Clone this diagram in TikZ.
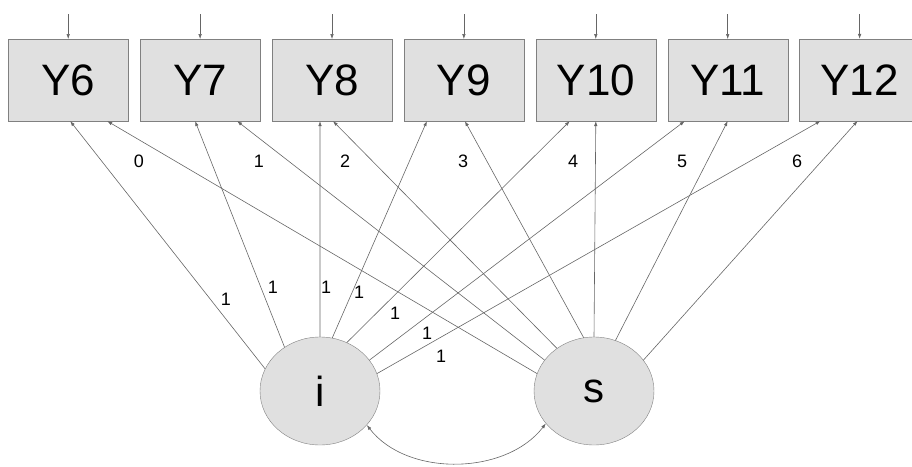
\documentclass[tikz,border=0pt]{standalone}
\usepackage{fontspec}
\setmainfont{Liberation Sans}
\usepackage{tikz}
\usetikzlibrary{positioning,shapes.geometric,arrows.meta,matrix}

\begin{document}
\begin{tikzpicture}[x=1pt,y=1pt,
            observed/.style={matrix of nodes,nodes={draw=black!50, fill=black!12, minimum width=120pt, minimum height=82pt,
            inner sep=0pt, font=\fontsize{44}{48}\selectfont}, column sep=11.5pt, inner sep=0pt, outer sep=0pt},
            latent/.style={ellipse, draw=black!50, fill=black!12, minimum width=120pt, minimum height=108pt,
            inner sep=0pt, font=\fontsize{42}{46}\selectfont},
            loading/.style={draw=black!60, line width=0.6pt, -{Latex[length=5pt,width=3.5pt]}},
            weight/.style={font=\fontsize{18}{20}\selectfont, inner sep=0pt}]

            \useasboundingbox (0,0) rectangle (912,466);

            \matrix[observed, anchor=west] (obs) at (8,386) {
            |(Y6)| Y6 & |(Y7)| Y7 & |(Y8)| Y8 & |(Y9)| Y9 & |(Y10)| Y10 & |(Y11)| Y11 & |(Y12)| Y12 \\};

            \node[latent] (i) at (320,75) {i};
            \node[latent] (s) at (594,75) {s};

            % error arrows on top
            \foreach \y in {Y6,Y7,Y8,Y9,Y10,Y11,Y12} {
                \coordinate[above=25pt of \y.north] (e\y);
                \draw[loading] (e\y) -- (\y.north);
            }

            % intercept loadings
            \draw[loading] (i.158) -- ([xshift=2pt]Y6.south);
            \draw[loading] (i.129) -- ([xshift=-5pt]Y7.south);
            \draw[loading] (i.90) -- ([xshift=-12pt]Y8.south);
            \draw[loading] (i.77) -- ([xshift=-37pt]Y9.south);
            \draw[loading] (i.61) -- ([xshift=-26pt]Y10.south);
            \draw[loading] (i.32) -- ([xshift=-43pt]Y11.south);
            \draw[loading] (i.17) -- ([xshift=-39pt]Y12.south);

            % slope loadings
            \draw[loading] (s.163) -- ([xshift=39pt]Y6.south);
            \draw[loading] (s.148) -- ([xshift=37pt]Y7.south);
            \draw[loading] (s.131) -- ([xshift=1pt]Y8.south);
            \draw[loading] (s.101) -- ([xshift=1pt]Y9.south);
            \draw[loading] (s.90) -- (Y10.south);
            \draw[loading] (s.67) -- (Y11.south);
            \draw[loading] (s.32) -- ([xshift=-2pt]Y12.south);

            % covariance
            \draw[draw=black!60, line width=0.6pt, {Latex[length=5pt,width=3.5pt]}-{Latex[length=5pt,width=3.5pt]}]
                (i.-36) .. controls +(40,-52) and +(-40,-52) .. (s.-146);

            \node[weight] (w0) at (139,305) {0};
            \node[weight] (w1) at (259,305) {1};
            \node[weight] (w2) at (345,305) {2};
            \node[weight] (w3) at (463,305) {3};
            \node[weight] (w4) at (573,305) {4};
            \node[weight] (w5) at (682,305) {5};
            \node[weight] (w6) at (797,305) {6};

            \node[weight] (a6) at (226,167) {1};
            \node[weight] (a7) at (273,179) {1};
            \node[weight] (a8) at (326,179) {1};
            \node[weight] (a9) at (359,174) {1};
            \node[weight] (a10) at (395,153) {1};
            \node[weight] (a11) at (427,133) {1};
            \node[weight] (a12) at (441,110) {1};
        \end{tikzpicture}
\end{document}
